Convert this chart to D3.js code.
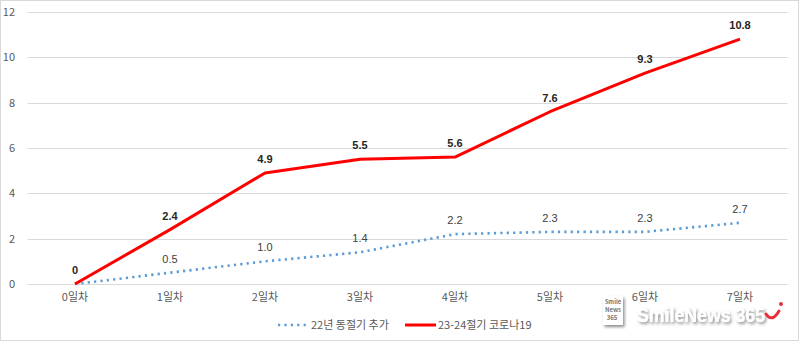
<!DOCTYPE html>
<html><head><meta charset="utf-8">
<script src="https://cdn.jsdelivr.net/npm/d3@7"></script>
<style>
body{margin:0;background:#fff;}
svg{display:block;font-family:"Noto Sans CJK KR","Noto Sans",sans-serif;}
</style></head>
<body>
<svg id="c" width="800" height="342"></svg>
<script>
const categories = ["0일차","1일차","2일차","3일차","4일차","5일차","6일차","7일차"];
const series22 = [0, 0.5, 1.0, 1.4, 2.2, 2.3, 2.3, 2.7];
const labels22 = [null, "0.5", "1.0", "1.4", "2.2", "2.3", "2.3", "2.7"];
const series23 = [0, 2.4, 4.9, 5.5, 5.6, 7.6, 9.3, 10.8];
const labels23 = ["0", "2.4", "4.9", "5.5", "5.6", "7.6", "9.3", "10.8"];
const yTicks = [0, 2, 4, 6, 8, 10, 12];
const seriesNames = ["22년 동절기 추가", "23-24절기 코로나19"];

const svg = d3.select("#c");
svg.append("rect").attr("x",0.5).attr("y",0.5).attr("width",798).attr("height",340)
  .attr("fill","#fff").attr("stroke","#d9d9d9");

const x = d3.scaleBand().domain(categories).range([27.5, 787.5]);
const y = d3.scaleLinear().domain([0, 12]).range([284, 12]);
const cx = c => x(c) + x.bandwidth()/2;

// gridlines
svg.append("g").selectAll("line").data(yTicks).join("line")
  .attr("x1", 27.5).attr("x2", 787.5)
  .attr("y1", d => Math.round(y(d))+0.5).attr("y2", d => Math.round(y(d))+0.5)
  .attr("stroke", "#d9d9d9").attr("stroke-width", 1);

// y axis labels
const yAxis = d3.axisLeft(y).tickValues(yTicks).tickSize(0).tickPadding(0);
const gy = svg.append("g").attr("transform","translate(15,0)").call(yAxis);
gy.select(".domain").remove();
gy.selectAll("text").attr("font-size", 11).attr("fill", "#595959")
  .attr("font-family", '"Noto Sans CJK KR",sans-serif');

// x axis labels
const xAxis = d3.axisBottom(x).tickSize(0).tickPadding(0);
const gx = svg.append("g").attr("transform","translate(0,293)").call(xAxis);
gx.select(".domain").remove();
gx.selectAll("text").attr("font-size", 11).attr("fill", "#595959")
  .attr("font-family", '"Noto Sans CJK KR",sans-serif');

const line = d3.line().x((d,i) => cx(categories[i])).y(d => y(d));

svg.append("path").datum(series22).attr("d", line).attr("fill","none")
  .attr("stroke","#5b9bd5").attr("stroke-width",2.6).attr("stroke-dasharray","2.2,4.2");
svg.append("path").datum(series23).attr("d", line).attr("fill","none")
  .attr("stroke","#ff0000").attr("stroke-width",3).attr("stroke-linejoin","round");

// data labels
svg.append("g").selectAll("text").data(series22).join("text")
  .attr("x", (d,i) => cx(categories[i])).attr("y", d => y(d) - 10)
  .attr("text-anchor","middle").attr("font-size",11).attr("fill","#404040")
  .attr("font-family",'"Liberation Sans",sans-serif')
  .text((d,i) => labels22[i] || "");
svg.append("g").selectAll("text").data(series23).join("text")
  .attr("x", (d,i) => cx(categories[i])).attr("y", d => y(d) - 10)
  .attr("text-anchor","middle").attr("font-size",11).attr("font-weight","bold").attr("fill","#262626")
  .attr("font-family",'"Liberation Sans",sans-serif')
  .text((d,i) => labels23[i]);

// legend
const lg = svg.append("g").attr("font-size",11).attr("fill","#595959");
lg.append("line").attr("x1",278).attr("x2",306).attr("y1",325).attr("y2",325)
  .attr("stroke","#5b9bd5").attr("stroke-width",2.6).attr("stroke-dasharray","2.2,4.2");
lg.append("text").attr("x",311).attr("y",329).attr("fill","#595959").text(seriesNames[0]);
lg.append("line").attr("x1",405).attr("x2",436).attr("y1",325).attr("y2",325)
  .attr("stroke","#ff0000").attr("stroke-width",3);
lg.append("text").attr("x",438).attr("y",329).attr("fill","#595959").text(seriesNames[1]);

// watermark
const defs = svg.append("defs");
const f = defs.append("filter").attr("id","sh").attr("x","-20%").attr("y","-40%").attr("width","140%").attr("height","180%");
f.append("feDropShadow").attr("dx",1.5).attr("dy",2).attr("stdDeviation",1.5).attr("flood-color","#000").attr("flood-opacity",0.45);
const wm = svg.append("g");
wm.append("rect").attr("x",603).attr("y",296).attr("width",20).attr("height",29)
  .attr("fill","#fff").attr("filter","url(#sh)");
wm.append("text").attr("x",613).attr("y",304).attr("text-anchor","middle").attr("font-size",6).attr("font-weight","bold").attr("fill","#777").text("Smile");
wm.append("text").attr("x",613).attr("y",312).attr("text-anchor","middle").attr("font-size",6).attr("font-weight","bold").attr("fill","#777").text("News");
wm.append("text").attr("x",612).attr("y",320).attr("text-anchor","middle").attr("font-size",6).attr("font-weight","bold").attr("fill","#777").text("365");
wm.append("text").attr("x",637).attr("y",322).attr("font-size",21).attr("font-weight","bold")
  .attr("font-family",'"Liberation Sans",sans-serif').attr("fill","#fff").attr("filter","url(#sh)")
  .attr("textLength",128).attr("lengthAdjust","spacingAndGlyphs").text("SmileNews 365");
wm.append("path").attr("d","M766,314 Q772,323 779,311").attr("fill","none").attr("stroke","#e8303a").attr("stroke-width",3).attr("stroke-linecap","round");
wm.append("circle").attr("cx",781).attr("cy",304).attr("r",2).attr("fill","#e8303a");
</script>
</body></html>
